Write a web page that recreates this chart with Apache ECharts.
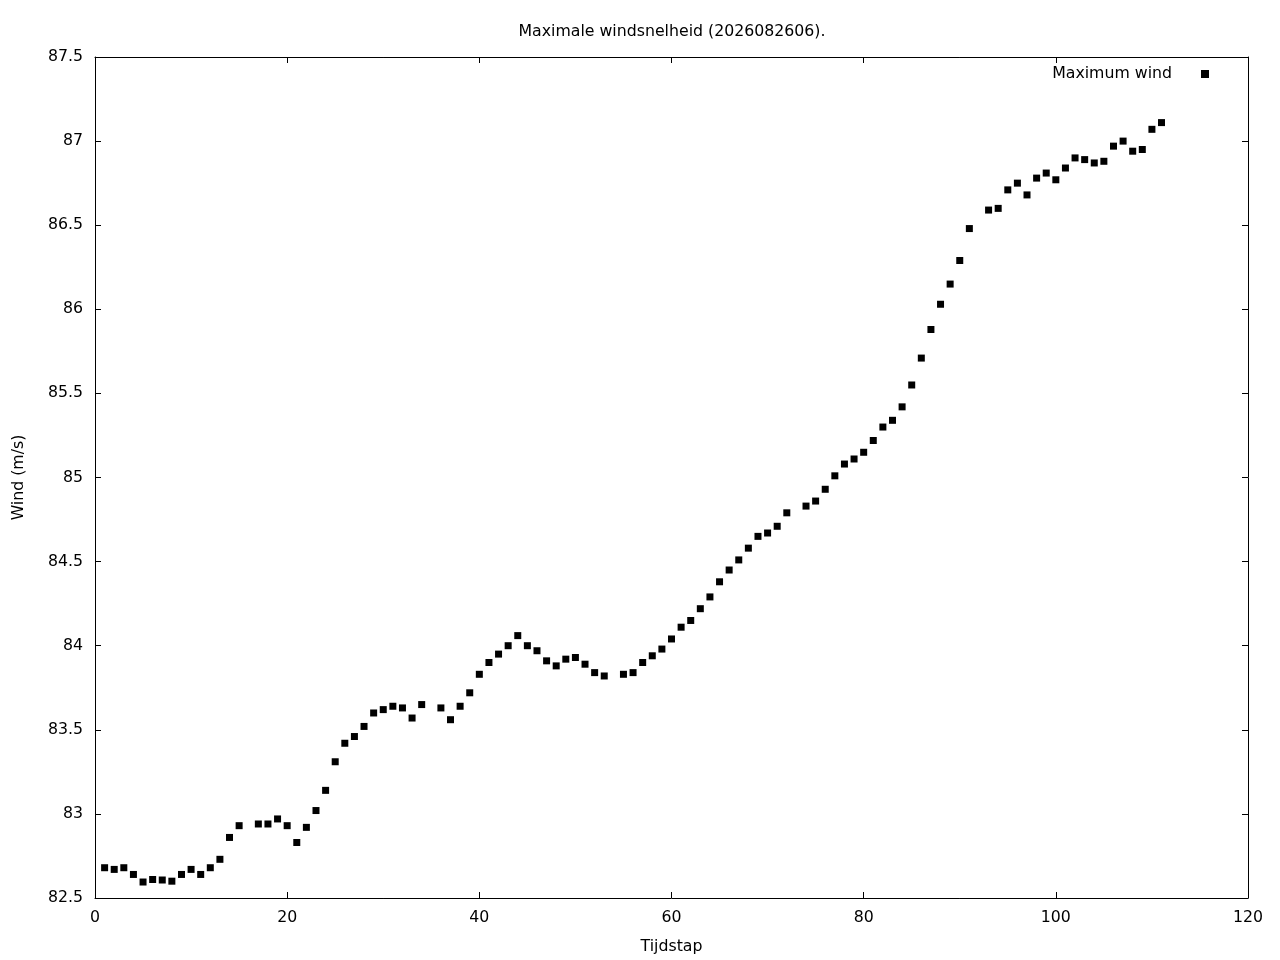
<!DOCTYPE html>
<html><head><meta charset="utf-8">
<script src="https://cdn.jsdelivr.net/npm/echarts@6/dist/echarts.min.js"></script>
<style>html,body{margin:0;padding:0;background:#fff}#c{width:1280px;height:960px}</style>
</head><body><div id="c"></div>
<script>
const titleText = 'Maximale windsnelheid (2026082606).';
const seriesName = 'Maximum wind';
const xName = 'Tijdstap';
const yName = 'Wind (m/s)';
const steps = [];
for (let i = 1; i <= 111; i++) steps.push(i);
const wind = [
82.68,82.67,82.68,82.64,82.595,82.61,82.607,82.60,82.64,82.67,
82.64,82.68,82.73,82.86,82.93,null,82.94,82.94,82.97,82.93,
82.83,82.92,83.02,83.14,83.31,83.42,83.46,83.52,83.60,83.62,
83.64,83.63,83.57,83.65,null,83.63,83.56,83.64,83.72,83.83,
83.90,83.95,84.00,84.06,84.00,83.97,83.91,83.88,83.92,83.93,
83.89,83.84,83.82,null,83.83,83.84,83.90,83.94,83.98,84.04,
84.11,84.15,84.22,84.29,84.38,84.45,84.51,84.58,84.65,84.67,
84.71,84.79,null,84.83,84.86,84.93,85.01,85.08,85.11,85.15,
85.22,85.30,85.34,85.42,85.55,85.71,85.88,86.03,86.15,86.29,
86.48,null,86.59,86.60,86.71,86.75,86.68,86.78,86.81,86.77,
86.84,86.90,86.89,86.87,86.88,86.97,87.00,86.94,86.95,87.07,
87.11
];
const points = steps.map((s, i) => [s, wind[i]]).filter(p => p[1] !== null);

const font = 'DejaVu Sans';
const fs = 15.75;
const axisCommon = {
  axisLine: { show: true, onZero: false, lineStyle: { color: '#000', width: 1 } },
  axisTick: { show: true, inside: true, length: 6, lineStyle: { color: '#000' } },
  splitLine: { show: false }
};
const chart = echarts.init(document.getElementById('c'));
chart.setOption({
  animation: false,
  backgroundColor: '#fff',
  textStyle: { fontFamily: font },
  title: { text: titleText, left: 667, top: 19, textAlign: 'center',
    textStyle: { fontFamily: font, fontSize: fs, fontWeight: 'normal', color: '#000' } },
  legend: { data: [{ name: seriesName, icon: 'rect' }], right: 66, top: 61, align: 'right',
    itemWidth: 8, itemHeight: 8, itemGap: 0,
    textStyle: { fontFamily: font, fontSize: fs, color: '#000', padding: [0, 24, 0, 0] } },
  grid: { left: 95, right: 32, top: 57, bottom: 61, containLabel: false },
  xAxis: [
    Object.assign({ type: 'value', min: 0, max: 120, interval: 20, position: 'bottom',
      name: xName, nameLocation: 'middle', nameGap: 41,
      nameTextStyle: { fontFamily: font, fontSize: fs, color: '#000' },
      axisLabel: { fontFamily: font, fontSize: fs, color: '#000', margin: 12 } }, axisCommon),
    Object.assign({ type: 'value', min: 0, max: 120, interval: 20, position: 'top',
      axisLabel: { show: false } }, axisCommon)
  ],
  yAxis: [
    Object.assign({ type: 'value', min: 82.5, max: 87.5, interval: 0.5, position: 'left',
      name: yName, nameLocation: 'middle', nameGap: 68, nameRotate: 90,
      nameTextStyle: { fontFamily: font, fontSize: fs, color: '#000' },
      axisLabel: { fontFamily: font, fontSize: fs, color: '#000', margin: 12,
        formatter: v => String(Math.round(v * 10) / 10) } }, axisCommon),
    Object.assign({ type: 'value', min: 82.5, max: 87.5, interval: 0.5, position: 'right',
      axisLabel: { show: false } }, axisCommon)
  ],
  series: [{
    name: seriesName, type: 'scatter', xAxisIndex: 0, yAxisIndex: 0,
    symbol: 'rect', symbolSize: 7, itemStyle: { color: '#000', opacity: 1 },
    data: points
  }]
});
</script></body></html>
